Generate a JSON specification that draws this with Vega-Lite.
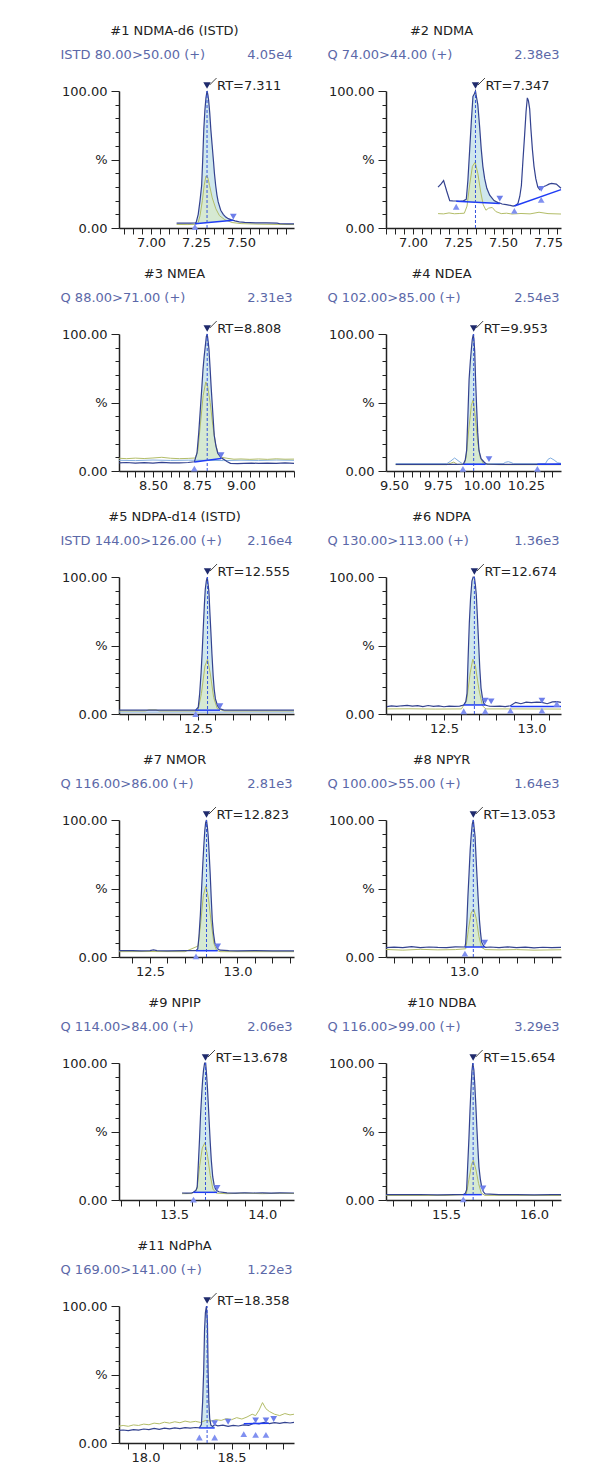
{
"$schema":"https://vega.github.io/schema/vega-lite/v6.json",
"background":"white",
"padding":{"left":60,"top":25,"right":5,"bottom":5},
"columns":2,
"spacing":{"row":19,"column":30},
"config":{
 "view":{"stroke":null},
 "font":"DejaVu Sans",
 "title":{"font":"DejaVu Sans","fontSize":13,"fontWeight":"normal","color":"#222222","anchor":"middle","frame":"group","offset":10,"baseline":"bottom"},
 "axis":{"grid":false,"labelFont":"DejaVu Sans","labelFontSize":13,"labelColor":"#222222","titleFont":"DejaVu Sans","titleFontSize":13,"titleFontWeight":"normal","titleColor":"#5b68a8","domainColor":"#222222","domainWidth":1.5,"tickColor":"#222222","tickWidth":1,"labelOverlap":false,"labelFlush":false},
 "axisX":{"tickSize":6,"labelPadding":2},
 "axisY":{"labelPadding":4}
},
"concat":[
{"width":175,"height":137,"title":{"text":"#1 NDMA-d6 (ISTD)","dx":-32},"data":{"name":"p1"},
 "encoding":{"x":{"field":"t","type":"quantitative","scale":{"domain":[6.822,7.794],"nice":false,"zero":false},"axis":{"values":[6.85,6.9,6.95,7,7.05,7.1,7.15,7.2,7.25,7.3,7.35,7.4,7.45,7.5,7.55,7.6,7.65,7.7,7.75],"labelExpr":"indexof([7,7.25,7.5],datum.value)>=0?format(datum.value,'.2f'):''","title":"4.05e4","titleX":173,"titleY":-174,"titleAlign":"right","titleBaseline":"middle"}},
  "y":{"field":"y","type":"quantitative","scale":{"domain":[0,100],"nice":false},"axis":{"values":[0,10,20,30,40,50,60,70,80,90,100],"labelExpr":"datum.value==100?'100.00':datum.value==50?'%':datum.value==0?'0.00':''","tickSize":{"condition":{"test":"datum.value%50==0","value":8},"value":4},"title":"ISTD 80.00>50.00 (+)","titleX":-59,"titleY":-37,"titleAngle":0,"titleAlign":"left","titleBaseline":"middle"}}},
 "layer":[
  {"transform":[{"filter":"datum.k=='a'"}],"mark":{"type":"area","color":"#cfe7ed","opacity":1},"encoding":{"y2":{"field":"b"}}},
  {"transform":[{"filter":"datum.k=='g'"}],"mark":{"type":"area","color":"#d6e9d2","opacity":1},"encoding":{"y2":{"field":"b"}}},
  {"transform":[{"filter":"datum.k=='c'"}],"mark":{"type":"line","color":"#82aee0","strokeWidth":1}},
  {"transform":[{"filter":"datum.k=='o'"}],"mark":{"type":"line","color":"#b3bd68","strokeWidth":1}},
  {"transform":[{"filter":"datum.k=='m'"}],"mark":{"type":"line","color":"#33428f","strokeWidth":1.2}},
  {"transform":[{"filter":"datum.k=='b'"}],"mark":{"type":"rule","color":"#1f3cf5","strokeWidth":1.5},"encoding":{"x2":{"field":"t2"},"y2":{"field":"y2"}}},
  {"transform":[{"filter":"datum.k=='x'"}],"mark":{"type":"rule","color":"#3553dc","strokeWidth":1,"strokeDash":[3,2]},"encoding":{"y":{"datum":0},"y2":{"datum":100}}},
  {"transform":[{"filter":"datum.k=='u'"}],"mark":{"type":"point","shape":"triangle-up","filled":true,"color":"#8090f0","size":45,"opacity":1}},
  {"transform":[{"filter":"datum.k=='d'"}],"mark":{"type":"point","shape":"triangle-down","filled":true,"color":"#6d7eea","size":45,"opacity":1}},
  {"transform":[{"filter":"datum.k=='x'"}],"mark":{"type":"point","shape":"triangle-down","filled":true,"color":"#1f2a6c","size":55,"opacity":1}},
  {"transform":[{"filter":"datum.k=='x'"}],"mark":{"type":"point","shape":"M-1,1L1,-1","filled":false,"color":"#444444","strokeWidth":1,"size":49,"opacity":1,"xOffset":6,"yOffset":-4}},
  {"transform":[{"filter":"datum.k=='x'"}],"mark":{"type":"text","align":"left","baseline":"middle","dx":10,"font":"DejaVu Sans","fontSize":13,"color":"#222222"},"encoding":{"text":{"field":"label"}}}
 ]},
{"width":175,"height":137,"title":{"text":"#2 NDMA","dx":-32},"data":{"name":"p2"},
 "encoding":{"x":{"field":"t","type":"quantitative","scale":{"domain":[6.85,7.822],"nice":false,"zero":false},"axis":{"values":[6.85,6.9,6.95,7,7.05,7.1,7.15,7.2,7.25,7.3,7.35,7.4,7.45,7.5,7.55,7.6,7.65,7.7,7.75,7.8],"labelExpr":"indexof([7,7.25,7.5,7.75],datum.value)>=0?format(datum.value,'.2f'):''","title":"2.38e3","titleX":173,"titleY":-174,"titleAlign":"right","titleBaseline":"middle"}},
  "y":{"field":"y","type":"quantitative","scale":{"domain":[0,100],"nice":false},"axis":{"values":[0,10,20,30,40,50,60,70,80,90,100],"labelExpr":"datum.value==100?'100.00':datum.value==50?'%':datum.value==0?'0.00':''","tickSize":{"condition":{"test":"datum.value%50==0","value":8},"value":4},"title":"Q 74.00>44.00 (+)","titleX":-59,"titleY":-37,"titleAngle":0,"titleAlign":"left","titleBaseline":"middle"}}},
 "layer":[
  {"transform":[{"filter":"datum.k=='a'"}],"mark":{"type":"area","color":"#cfe7ed","opacity":1},"encoding":{"y2":{"field":"b"}}},
  {"transform":[{"filter":"datum.k=='g'"}],"mark":{"type":"area","color":"#d6e9d2","opacity":1},"encoding":{"y2":{"field":"b"}}},
  {"transform":[{"filter":"datum.k=='c'"}],"mark":{"type":"line","color":"#82aee0","strokeWidth":1}},
  {"transform":[{"filter":"datum.k=='o'"}],"mark":{"type":"line","color":"#b3bd68","strokeWidth":1}},
  {"transform":[{"filter":"datum.k=='m'"}],"mark":{"type":"line","color":"#33428f","strokeWidth":1.2}},
  {"transform":[{"filter":"datum.k=='b'"}],"mark":{"type":"rule","color":"#1f3cf5","strokeWidth":1.5},"encoding":{"x2":{"field":"t2"},"y2":{"field":"y2"}}},
  {"transform":[{"filter":"datum.k=='x'"}],"mark":{"type":"rule","color":"#3553dc","strokeWidth":1,"strokeDash":[3,2]},"encoding":{"y":{"datum":0},"y2":{"datum":100}}},
  {"transform":[{"filter":"datum.k=='u'"}],"mark":{"type":"point","shape":"triangle-up","filled":true,"color":"#8090f0","size":45,"opacity":1}},
  {"transform":[{"filter":"datum.k=='d'"}],"mark":{"type":"point","shape":"triangle-down","filled":true,"color":"#6d7eea","size":45,"opacity":1}},
  {"transform":[{"filter":"datum.k=='x'"}],"mark":{"type":"point","shape":"triangle-down","filled":true,"color":"#1f2a6c","size":55,"opacity":1}},
  {"transform":[{"filter":"datum.k=='x'"}],"mark":{"type":"point","shape":"M-1,1L1,-1","filled":false,"color":"#444444","strokeWidth":1,"size":49,"opacity":1,"xOffset":6,"yOffset":-4}},
  {"transform":[{"filter":"datum.k=='x'"}],"mark":{"type":"text","align":"left","baseline":"middle","dx":10,"font":"DejaVu Sans","fontSize":13,"color":"#222222"},"encoding":{"text":{"field":"label"}}}
 ]},
{"width":175,"height":137,"title":{"text":"#3 NMEA","dx":-32},"data":{"name":"p3"},
 "encoding":{"x":{"field":"t","type":"quantitative","scale":{"domain":[8.307,9.301],"nice":false,"zero":false},"axis":{"values":[8.35,8.4,8.45,8.5,8.55,8.6,8.65,8.7,8.75,8.8,8.85,8.9,8.95,9,9.05,9.1,9.15,9.2,9.25,9.3],"labelExpr":"indexof([8.5,8.75,9],datum.value)>=0?format(datum.value,'.2f'):''","title":"2.31e3","titleX":173,"titleY":-174,"titleAlign":"right","titleBaseline":"middle"}},
  "y":{"field":"y","type":"quantitative","scale":{"domain":[0,100],"nice":false},"axis":{"values":[0,10,20,30,40,50,60,70,80,90,100],"labelExpr":"datum.value==100?'100.00':datum.value==50?'%':datum.value==0?'0.00':''","tickSize":{"condition":{"test":"datum.value%50==0","value":8},"value":4},"title":"Q 88.00>71.00 (+)","titleX":-59,"titleY":-37,"titleAngle":0,"titleAlign":"left","titleBaseline":"middle"}}},
 "layer":[
  {"transform":[{"filter":"datum.k=='a'"}],"mark":{"type":"area","color":"#cfe7ed","opacity":1},"encoding":{"y2":{"field":"b"}}},
  {"transform":[{"filter":"datum.k=='g'"}],"mark":{"type":"area","color":"#d6e9d2","opacity":1},"encoding":{"y2":{"field":"b"}}},
  {"transform":[{"filter":"datum.k=='c'"}],"mark":{"type":"line","color":"#82aee0","strokeWidth":1}},
  {"transform":[{"filter":"datum.k=='o'"}],"mark":{"type":"line","color":"#b3bd68","strokeWidth":1}},
  {"transform":[{"filter":"datum.k=='m'"}],"mark":{"type":"line","color":"#33428f","strokeWidth":1.2}},
  {"transform":[{"filter":"datum.k=='b'"}],"mark":{"type":"rule","color":"#1f3cf5","strokeWidth":1.5},"encoding":{"x2":{"field":"t2"},"y2":{"field":"y2"}}},
  {"transform":[{"filter":"datum.k=='x'"}],"mark":{"type":"rule","color":"#3553dc","strokeWidth":1,"strokeDash":[3,2]},"encoding":{"y":{"datum":0},"y2":{"datum":100}}},
  {"transform":[{"filter":"datum.k=='u'"}],"mark":{"type":"point","shape":"triangle-up","filled":true,"color":"#8090f0","size":45,"opacity":1}},
  {"transform":[{"filter":"datum.k=='d'"}],"mark":{"type":"point","shape":"triangle-down","filled":true,"color":"#6d7eea","size":45,"opacity":1}},
  {"transform":[{"filter":"datum.k=='x'"}],"mark":{"type":"point","shape":"triangle-down","filled":true,"color":"#1f2a6c","size":55,"opacity":1}},
  {"transform":[{"filter":"datum.k=='x'"}],"mark":{"type":"point","shape":"M-1,1L1,-1","filled":false,"color":"#444444","strokeWidth":1,"size":49,"opacity":1,"xOffset":6,"yOffset":-4}},
  {"transform":[{"filter":"datum.k=='x'"}],"mark":{"type":"text","align":"left","baseline":"middle","dx":10,"font":"DejaVu Sans","fontSize":13,"color":"#222222"},"encoding":{"text":{"field":"label"}}}
 ]},
{"width":175,"height":137,"title":{"text":"#4 NDEA","dx":-32},"data":{"name":"p4"},
 "encoding":{"x":{"field":"t","type":"quantitative","scale":{"domain":[9.455,10.449],"nice":false,"zero":false},"axis":{"values":[9.5,9.55,9.6,9.65,9.7,9.75,9.8,9.85,9.9,9.95,10,10.05,10.1,10.15,10.2,10.25,10.3,10.35,10.4],"labelExpr":"indexof([9.5,9.75,10,10.25],datum.value)>=0?format(datum.value,'.2f'):''","title":"2.54e3","titleX":173,"titleY":-174,"titleAlign":"right","titleBaseline":"middle"}},
  "y":{"field":"y","type":"quantitative","scale":{"domain":[0,100],"nice":false},"axis":{"values":[0,10,20,30,40,50,60,70,80,90,100],"labelExpr":"datum.value==100?'100.00':datum.value==50?'%':datum.value==0?'0.00':''","tickSize":{"condition":{"test":"datum.value%50==0","value":8},"value":4},"title":"Q 102.00>85.00 (+)","titleX":-59,"titleY":-37,"titleAngle":0,"titleAlign":"left","titleBaseline":"middle"}}},
 "layer":[
  {"transform":[{"filter":"datum.k=='a'"}],"mark":{"type":"area","color":"#cfe7ed","opacity":1},"encoding":{"y2":{"field":"b"}}},
  {"transform":[{"filter":"datum.k=='g'"}],"mark":{"type":"area","color":"#d6e9d2","opacity":1},"encoding":{"y2":{"field":"b"}}},
  {"transform":[{"filter":"datum.k=='c'"}],"mark":{"type":"line","color":"#82aee0","strokeWidth":1}},
  {"transform":[{"filter":"datum.k=='o'"}],"mark":{"type":"line","color":"#b3bd68","strokeWidth":1}},
  {"transform":[{"filter":"datum.k=='m'"}],"mark":{"type":"line","color":"#33428f","strokeWidth":1.2}},
  {"transform":[{"filter":"datum.k=='b'"}],"mark":{"type":"rule","color":"#1f3cf5","strokeWidth":1.5},"encoding":{"x2":{"field":"t2"},"y2":{"field":"y2"}}},
  {"transform":[{"filter":"datum.k=='x'"}],"mark":{"type":"rule","color":"#3553dc","strokeWidth":1,"strokeDash":[3,2]},"encoding":{"y":{"datum":0},"y2":{"datum":100}}},
  {"transform":[{"filter":"datum.k=='u'"}],"mark":{"type":"point","shape":"triangle-up","filled":true,"color":"#8090f0","size":45,"opacity":1}},
  {"transform":[{"filter":"datum.k=='d'"}],"mark":{"type":"point","shape":"triangle-down","filled":true,"color":"#6d7eea","size":45,"opacity":1}},
  {"transform":[{"filter":"datum.k=='x'"}],"mark":{"type":"point","shape":"triangle-down","filled":true,"color":"#1f2a6c","size":55,"opacity":1}},
  {"transform":[{"filter":"datum.k=='x'"}],"mark":{"type":"point","shape":"M-1,1L1,-1","filled":false,"color":"#444444","strokeWidth":1,"size":49,"opacity":1,"xOffset":6,"yOffset":-4}},
  {"transform":[{"filter":"datum.k=='x'"}],"mark":{"type":"text","align":"left","baseline":"middle","dx":10,"font":"DejaVu Sans","fontSize":13,"color":"#222222"},"encoding":{"text":{"field":"label"}}}
 ]},
{"width":175,"height":137,"title":{"text":"#5 NDPA-d14 (ISTD)","dx":-32},"data":{"name":"p5"},
 "encoding":{"x":{"field":"t","type":"quantitative","scale":{"domain":[12.049,13.049],"nice":false,"zero":false},"axis":{"values":[12.1,12.2,12.3,12.4,12.5,12.6,12.7,12.8,12.9,13],"labelExpr":"indexof([12.5],datum.value)>=0?format(datum.value,'.1f'):''","title":"2.16e4","titleX":173,"titleY":-174,"titleAlign":"right","titleBaseline":"middle"}},
  "y":{"field":"y","type":"quantitative","scale":{"domain":[0,100],"nice":false},"axis":{"values":[0,10,20,30,40,50,60,70,80,90,100],"labelExpr":"datum.value==100?'100.00':datum.value==50?'%':datum.value==0?'0.00':''","tickSize":{"condition":{"test":"datum.value%50==0","value":8},"value":4},"title":"ISTD 144.00>126.00 (+)","titleX":-59,"titleY":-37,"titleAngle":0,"titleAlign":"left","titleBaseline":"middle"}}},
 "layer":[
  {"transform":[{"filter":"datum.k=='a'"}],"mark":{"type":"area","color":"#cfe7ed","opacity":1},"encoding":{"y2":{"field":"b"}}},
  {"transform":[{"filter":"datum.k=='g'"}],"mark":{"type":"area","color":"#d6e9d2","opacity":1},"encoding":{"y2":{"field":"b"}}},
  {"transform":[{"filter":"datum.k=='c'"}],"mark":{"type":"line","color":"#82aee0","strokeWidth":1}},
  {"transform":[{"filter":"datum.k=='o'"}],"mark":{"type":"line","color":"#b3bd68","strokeWidth":1}},
  {"transform":[{"filter":"datum.k=='m'"}],"mark":{"type":"line","color":"#33428f","strokeWidth":1.2}},
  {"transform":[{"filter":"datum.k=='b'"}],"mark":{"type":"rule","color":"#1f3cf5","strokeWidth":1.5},"encoding":{"x2":{"field":"t2"},"y2":{"field":"y2"}}},
  {"transform":[{"filter":"datum.k=='x'"}],"mark":{"type":"rule","color":"#3553dc","strokeWidth":1,"strokeDash":[3,2]},"encoding":{"y":{"datum":0},"y2":{"datum":100}}},
  {"transform":[{"filter":"datum.k=='u'"}],"mark":{"type":"point","shape":"triangle-up","filled":true,"color":"#8090f0","size":45,"opacity":1}},
  {"transform":[{"filter":"datum.k=='d'"}],"mark":{"type":"point","shape":"triangle-down","filled":true,"color":"#6d7eea","size":45,"opacity":1}},
  {"transform":[{"filter":"datum.k=='x'"}],"mark":{"type":"point","shape":"triangle-down","filled":true,"color":"#1f2a6c","size":55,"opacity":1}},
  {"transform":[{"filter":"datum.k=='x'"}],"mark":{"type":"point","shape":"M-1,1L1,-1","filled":false,"color":"#444444","strokeWidth":1,"size":49,"opacity":1,"xOffset":6,"yOffset":-4}},
  {"transform":[{"filter":"datum.k=='x'"}],"mark":{"type":"text","align":"left","baseline":"middle","dx":10,"font":"DejaVu Sans","fontSize":13,"color":"#222222"},"encoding":{"text":{"field":"label"}}}
 ]},
{"width":175,"height":137,"title":{"text":"#6 NDPA","dx":-32},"data":{"name":"p6"},
 "encoding":{"x":{"field":"t","type":"quantitative","scale":{"domain":[12.169,13.169],"nice":false,"zero":false},"axis":{"values":[12.2,12.3,12.4,12.5,12.6,12.7,12.8,12.9,13,13.1],"labelExpr":"indexof([12.5,13],datum.value)>=0?format(datum.value,'.1f'):''","title":"1.36e3","titleX":173,"titleY":-174,"titleAlign":"right","titleBaseline":"middle"}},
  "y":{"field":"y","type":"quantitative","scale":{"domain":[0,100],"nice":false},"axis":{"values":[0,10,20,30,40,50,60,70,80,90,100],"labelExpr":"datum.value==100?'100.00':datum.value==50?'%':datum.value==0?'0.00':''","tickSize":{"condition":{"test":"datum.value%50==0","value":8},"value":4},"title":"Q 130.00>113.00 (+)","titleX":-59,"titleY":-37,"titleAngle":0,"titleAlign":"left","titleBaseline":"middle"}}},
 "layer":[
  {"transform":[{"filter":"datum.k=='a'"}],"mark":{"type":"area","color":"#cfe7ed","opacity":1},"encoding":{"y2":{"field":"b"}}},
  {"transform":[{"filter":"datum.k=='g'"}],"mark":{"type":"area","color":"#d6e9d2","opacity":1},"encoding":{"y2":{"field":"b"}}},
  {"transform":[{"filter":"datum.k=='c'"}],"mark":{"type":"line","color":"#82aee0","strokeWidth":1}},
  {"transform":[{"filter":"datum.k=='o'"}],"mark":{"type":"line","color":"#b3bd68","strokeWidth":1}},
  {"transform":[{"filter":"datum.k=='m'"}],"mark":{"type":"line","color":"#33428f","strokeWidth":1.2}},
  {"transform":[{"filter":"datum.k=='b'"}],"mark":{"type":"rule","color":"#1f3cf5","strokeWidth":1.5},"encoding":{"x2":{"field":"t2"},"y2":{"field":"y2"}}},
  {"transform":[{"filter":"datum.k=='x'"}],"mark":{"type":"rule","color":"#3553dc","strokeWidth":1,"strokeDash":[3,2]},"encoding":{"y":{"datum":0},"y2":{"datum":100}}},
  {"transform":[{"filter":"datum.k=='u'"}],"mark":{"type":"point","shape":"triangle-up","filled":true,"color":"#8090f0","size":45,"opacity":1}},
  {"transform":[{"filter":"datum.k=='d'"}],"mark":{"type":"point","shape":"triangle-down","filled":true,"color":"#6d7eea","size":45,"opacity":1}},
  {"transform":[{"filter":"datum.k=='x'"}],"mark":{"type":"point","shape":"triangle-down","filled":true,"color":"#1f2a6c","size":55,"opacity":1}},
  {"transform":[{"filter":"datum.k=='x'"}],"mark":{"type":"point","shape":"M-1,1L1,-1","filled":false,"color":"#444444","strokeWidth":1,"size":49,"opacity":1,"xOffset":6,"yOffset":-4}},
  {"transform":[{"filter":"datum.k=='x'"}],"mark":{"type":"text","align":"left","baseline":"middle","dx":10,"font":"DejaVu Sans","fontSize":13,"color":"#222222"},"encoding":{"text":{"field":"label"}}}
 ]},
{"width":175,"height":137,"title":{"text":"#7 NMOR","dx":-32},"data":{"name":"p7"},
 "encoding":{"x":{"field":"t","type":"quantitative","scale":{"domain":[12.323,13.323],"nice":false,"zero":false},"axis":{"values":[12.4,12.5,12.6,12.7,12.8,12.9,13,13.1,13.2,13.3],"labelExpr":"indexof([12.5,13],datum.value)>=0?format(datum.value,'.1f'):''","title":"2.81e3","titleX":173,"titleY":-174,"titleAlign":"right","titleBaseline":"middle"}},
  "y":{"field":"y","type":"quantitative","scale":{"domain":[0,100],"nice":false},"axis":{"values":[0,10,20,30,40,50,60,70,80,90,100],"labelExpr":"datum.value==100?'100.00':datum.value==50?'%':datum.value==0?'0.00':''","tickSize":{"condition":{"test":"datum.value%50==0","value":8},"value":4},"title":"Q 116.00>86.00 (+)","titleX":-59,"titleY":-37,"titleAngle":0,"titleAlign":"left","titleBaseline":"middle"}}},
 "layer":[
  {"transform":[{"filter":"datum.k=='a'"}],"mark":{"type":"area","color":"#cfe7ed","opacity":1},"encoding":{"y2":{"field":"b"}}},
  {"transform":[{"filter":"datum.k=='g'"}],"mark":{"type":"area","color":"#d6e9d2","opacity":1},"encoding":{"y2":{"field":"b"}}},
  {"transform":[{"filter":"datum.k=='c'"}],"mark":{"type":"line","color":"#82aee0","strokeWidth":1}},
  {"transform":[{"filter":"datum.k=='o'"}],"mark":{"type":"line","color":"#b3bd68","strokeWidth":1}},
  {"transform":[{"filter":"datum.k=='m'"}],"mark":{"type":"line","color":"#33428f","strokeWidth":1.2}},
  {"transform":[{"filter":"datum.k=='b'"}],"mark":{"type":"rule","color":"#1f3cf5","strokeWidth":1.5},"encoding":{"x2":{"field":"t2"},"y2":{"field":"y2"}}},
  {"transform":[{"filter":"datum.k=='x'"}],"mark":{"type":"rule","color":"#3553dc","strokeWidth":1,"strokeDash":[3,2]},"encoding":{"y":{"datum":0},"y2":{"datum":100}}},
  {"transform":[{"filter":"datum.k=='u'"}],"mark":{"type":"point","shape":"triangle-up","filled":true,"color":"#8090f0","size":45,"opacity":1}},
  {"transform":[{"filter":"datum.k=='d'"}],"mark":{"type":"point","shape":"triangle-down","filled":true,"color":"#6d7eea","size":45,"opacity":1}},
  {"transform":[{"filter":"datum.k=='x'"}],"mark":{"type":"point","shape":"triangle-down","filled":true,"color":"#1f2a6c","size":55,"opacity":1}},
  {"transform":[{"filter":"datum.k=='x'"}],"mark":{"type":"point","shape":"M-1,1L1,-1","filled":false,"color":"#444444","strokeWidth":1,"size":49,"opacity":1,"xOffset":6,"yOffset":-4}},
  {"transform":[{"filter":"datum.k=='x'"}],"mark":{"type":"text","align":"left","baseline":"middle","dx":10,"font":"DejaVu Sans","fontSize":13,"color":"#222222"},"encoding":{"text":{"field":"label"}}}
 ]},
{"width":175,"height":137,"title":{"text":"#8 NPYR","dx":-32},"data":{"name":"p8"},
 "encoding":{"x":{"field":"t","type":"quantitative","scale":{"domain":[12.554,13.554],"nice":false,"zero":false},"axis":{"values":[12.6,12.7,12.8,12.9,13,13.1,13.2,13.3,13.4,13.5],"labelExpr":"indexof([13],datum.value)>=0?format(datum.value,'.1f'):''","title":"1.64e3","titleX":173,"titleY":-174,"titleAlign":"right","titleBaseline":"middle"}},
  "y":{"field":"y","type":"quantitative","scale":{"domain":[0,100],"nice":false},"axis":{"values":[0,10,20,30,40,50,60,70,80,90,100],"labelExpr":"datum.value==100?'100.00':datum.value==50?'%':datum.value==0?'0.00':''","tickSize":{"condition":{"test":"datum.value%50==0","value":8},"value":4},"title":"Q 100.00>55.00 (+)","titleX":-59,"titleY":-37,"titleAngle":0,"titleAlign":"left","titleBaseline":"middle"}}},
 "layer":[
  {"transform":[{"filter":"datum.k=='a'"}],"mark":{"type":"area","color":"#cfe7ed","opacity":1},"encoding":{"y2":{"field":"b"}}},
  {"transform":[{"filter":"datum.k=='g'"}],"mark":{"type":"area","color":"#d6e9d2","opacity":1},"encoding":{"y2":{"field":"b"}}},
  {"transform":[{"filter":"datum.k=='c'"}],"mark":{"type":"line","color":"#82aee0","strokeWidth":1}},
  {"transform":[{"filter":"datum.k=='o'"}],"mark":{"type":"line","color":"#b3bd68","strokeWidth":1}},
  {"transform":[{"filter":"datum.k=='m'"}],"mark":{"type":"line","color":"#33428f","strokeWidth":1.2}},
  {"transform":[{"filter":"datum.k=='b'"}],"mark":{"type":"rule","color":"#1f3cf5","strokeWidth":1.5},"encoding":{"x2":{"field":"t2"},"y2":{"field":"y2"}}},
  {"transform":[{"filter":"datum.k=='x'"}],"mark":{"type":"rule","color":"#3553dc","strokeWidth":1,"strokeDash":[3,2]},"encoding":{"y":{"datum":0},"y2":{"datum":100}}},
  {"transform":[{"filter":"datum.k=='u'"}],"mark":{"type":"point","shape":"triangle-up","filled":true,"color":"#8090f0","size":45,"opacity":1}},
  {"transform":[{"filter":"datum.k=='d'"}],"mark":{"type":"point","shape":"triangle-down","filled":true,"color":"#6d7eea","size":45,"opacity":1}},
  {"transform":[{"filter":"datum.k=='x'"}],"mark":{"type":"point","shape":"triangle-down","filled":true,"color":"#1f2a6c","size":55,"opacity":1}},
  {"transform":[{"filter":"datum.k=='x'"}],"mark":{"type":"point","shape":"M-1,1L1,-1","filled":false,"color":"#444444","strokeWidth":1,"size":49,"opacity":1,"xOffset":6,"yOffset":-4}},
  {"transform":[{"filter":"datum.k=='x'"}],"mark":{"type":"text","align":"left","baseline":"middle","dx":10,"font":"DejaVu Sans","fontSize":13,"color":"#222222"},"encoding":{"text":{"field":"label"}}}
 ]},
{"width":175,"height":137,"title":{"text":"#9 NPIP","dx":-32},"data":{"name":"p9"},
 "encoding":{"x":{"field":"t","type":"quantitative","scale":{"domain":[13.1875,14.18],"nice":false,"zero":false},"axis":{"values":[13.2,13.3,13.4,13.5,13.6,13.7,13.8,13.9,14,14.1],"labelExpr":"indexof([13.5,14],datum.value)>=0?format(datum.value,'.1f'):''","title":"2.06e3","titleX":173,"titleY":-174,"titleAlign":"right","titleBaseline":"middle"}},
  "y":{"field":"y","type":"quantitative","scale":{"domain":[0,100],"nice":false},"axis":{"values":[0,10,20,30,40,50,60,70,80,90,100],"labelExpr":"datum.value==100?'100.00':datum.value==50?'%':datum.value==0?'0.00':''","tickSize":{"condition":{"test":"datum.value%50==0","value":8},"value":4},"title":"Q 114.00>84.00 (+)","titleX":-59,"titleY":-37,"titleAngle":0,"titleAlign":"left","titleBaseline":"middle"}}},
 "layer":[
  {"transform":[{"filter":"datum.k=='a'"}],"mark":{"type":"area","color":"#cfe7ed","opacity":1},"encoding":{"y2":{"field":"b"}}},
  {"transform":[{"filter":"datum.k=='g'"}],"mark":{"type":"area","color":"#d6e9d2","opacity":1},"encoding":{"y2":{"field":"b"}}},
  {"transform":[{"filter":"datum.k=='c'"}],"mark":{"type":"line","color":"#82aee0","strokeWidth":1}},
  {"transform":[{"filter":"datum.k=='o'"}],"mark":{"type":"line","color":"#b3bd68","strokeWidth":1}},
  {"transform":[{"filter":"datum.k=='m'"}],"mark":{"type":"line","color":"#33428f","strokeWidth":1.2}},
  {"transform":[{"filter":"datum.k=='b'"}],"mark":{"type":"rule","color":"#1f3cf5","strokeWidth":1.5},"encoding":{"x2":{"field":"t2"},"y2":{"field":"y2"}}},
  {"transform":[{"filter":"datum.k=='x'"}],"mark":{"type":"rule","color":"#3553dc","strokeWidth":1,"strokeDash":[3,2]},"encoding":{"y":{"datum":0},"y2":{"datum":100}}},
  {"transform":[{"filter":"datum.k=='u'"}],"mark":{"type":"point","shape":"triangle-up","filled":true,"color":"#8090f0","size":45,"opacity":1}},
  {"transform":[{"filter":"datum.k=='d'"}],"mark":{"type":"point","shape":"triangle-down","filled":true,"color":"#6d7eea","size":45,"opacity":1}},
  {"transform":[{"filter":"datum.k=='x'"}],"mark":{"type":"point","shape":"triangle-down","filled":true,"color":"#1f2a6c","size":55,"opacity":1}},
  {"transform":[{"filter":"datum.k=='x'"}],"mark":{"type":"point","shape":"M-1,1L1,-1","filled":false,"color":"#444444","strokeWidth":1,"size":49,"opacity":1,"xOffset":6,"yOffset":-4}},
  {"transform":[{"filter":"datum.k=='x'"}],"mark":{"type":"text","align":"left","baseline":"middle","dx":10,"font":"DejaVu Sans","fontSize":13,"color":"#222222"},"encoding":{"text":{"field":"label"}}}
 ]},
{"width":175,"height":137,"title":{"text":"#10 NDBA","dx":-32},"data":{"name":"p10"},
 "encoding":{"x":{"field":"t","type":"quantitative","scale":{"domain":[15.159,16.153],"nice":false,"zero":false},"axis":{"values":[15.2,15.3,15.4,15.5,15.6,15.7,15.8,15.9,16,16.1],"labelExpr":"indexof([15.5,16],datum.value)>=0?format(datum.value,'.1f'):''","title":"3.29e3","titleX":173,"titleY":-174,"titleAlign":"right","titleBaseline":"middle"}},
  "y":{"field":"y","type":"quantitative","scale":{"domain":[0,100],"nice":false},"axis":{"values":[0,10,20,30,40,50,60,70,80,90,100],"labelExpr":"datum.value==100?'100.00':datum.value==50?'%':datum.value==0?'0.00':''","tickSize":{"condition":{"test":"datum.value%50==0","value":8},"value":4},"title":"Q 116.00>99.00 (+)","titleX":-59,"titleY":-37,"titleAngle":0,"titleAlign":"left","titleBaseline":"middle"}}},
 "layer":[
  {"transform":[{"filter":"datum.k=='a'"}],"mark":{"type":"area","color":"#cfe7ed","opacity":1},"encoding":{"y2":{"field":"b"}}},
  {"transform":[{"filter":"datum.k=='g'"}],"mark":{"type":"area","color":"#d6e9d2","opacity":1},"encoding":{"y2":{"field":"b"}}},
  {"transform":[{"filter":"datum.k=='c'"}],"mark":{"type":"line","color":"#82aee0","strokeWidth":1}},
  {"transform":[{"filter":"datum.k=='o'"}],"mark":{"type":"line","color":"#b3bd68","strokeWidth":1}},
  {"transform":[{"filter":"datum.k=='m'"}],"mark":{"type":"line","color":"#33428f","strokeWidth":1.2}},
  {"transform":[{"filter":"datum.k=='b'"}],"mark":{"type":"rule","color":"#1f3cf5","strokeWidth":1.5},"encoding":{"x2":{"field":"t2"},"y2":{"field":"y2"}}},
  {"transform":[{"filter":"datum.k=='x'"}],"mark":{"type":"rule","color":"#3553dc","strokeWidth":1,"strokeDash":[3,2]},"encoding":{"y":{"datum":0},"y2":{"datum":100}}},
  {"transform":[{"filter":"datum.k=='u'"}],"mark":{"type":"point","shape":"triangle-up","filled":true,"color":"#8090f0","size":45,"opacity":1}},
  {"transform":[{"filter":"datum.k=='d'"}],"mark":{"type":"point","shape":"triangle-down","filled":true,"color":"#6d7eea","size":45,"opacity":1}},
  {"transform":[{"filter":"datum.k=='x'"}],"mark":{"type":"point","shape":"triangle-down","filled":true,"color":"#1f2a6c","size":55,"opacity":1}},
  {"transform":[{"filter":"datum.k=='x'"}],"mark":{"type":"point","shape":"M-1,1L1,-1","filled":false,"color":"#444444","strokeWidth":1,"size":49,"opacity":1,"xOffset":6,"yOffset":-4}},
  {"transform":[{"filter":"datum.k=='x'"}],"mark":{"type":"text","align":"left","baseline":"middle","dx":10,"font":"DejaVu Sans","fontSize":13,"color":"#222222"},"encoding":{"text":{"field":"label"}}}
 ]},
{"width":175,"height":137,"title":{"text":"#11 NdPhA","dx":-32},"data":{"name":"p11"},
 "encoding":{"x":{"field":"t","type":"quantitative","scale":{"domain":[17.846,18.863],"nice":false,"zero":false},"axis":{"values":[17.9,18,18.1,18.2,18.3,18.4,18.5,18.6,18.7,18.8],"labelExpr":"indexof([18,18.5],datum.value)>=0?format(datum.value,'.1f'):''","title":"1.22e3","titleX":173,"titleY":-174,"titleAlign":"right","titleBaseline":"middle"}},
  "y":{"field":"y","type":"quantitative","scale":{"domain":[0,100],"nice":false},"axis":{"values":[0,10,20,30,40,50,60,70,80,90,100],"labelExpr":"datum.value==100?'100.00':datum.value==50?'%':datum.value==0?'0.00':''","tickSize":{"condition":{"test":"datum.value%50==0","value":8},"value":4},"title":"Q 169.00>141.00 (+)","titleX":-59,"titleY":-37,"titleAngle":0,"titleAlign":"left","titleBaseline":"middle"}}},
 "layer":[
  {"transform":[{"filter":"datum.k=='a'"}],"mark":{"type":"area","color":"#cfe7ed","opacity":1},"encoding":{"y2":{"field":"b"}}},
  {"transform":[{"filter":"datum.k=='g'"}],"mark":{"type":"area","color":"#d6e9d2","opacity":1},"encoding":{"y2":{"field":"b"}}},
  {"transform":[{"filter":"datum.k=='c'"}],"mark":{"type":"line","color":"#82aee0","strokeWidth":1}},
  {"transform":[{"filter":"datum.k=='o'"}],"mark":{"type":"line","color":"#b3bd68","strokeWidth":1}},
  {"transform":[{"filter":"datum.k=='m'"}],"mark":{"type":"line","color":"#33428f","strokeWidth":1.2}},
  {"transform":[{"filter":"datum.k=='b'"}],"mark":{"type":"rule","color":"#1f3cf5","strokeWidth":1.5},"encoding":{"x2":{"field":"t2"},"y2":{"field":"y2"}}},
  {"transform":[{"filter":"datum.k=='x'"}],"mark":{"type":"rule","color":"#3553dc","strokeWidth":1,"strokeDash":[3,2]},"encoding":{"y":{"datum":0},"y2":{"datum":100}}},
  {"transform":[{"filter":"datum.k=='u'"}],"mark":{"type":"point","shape":"triangle-up","filled":true,"color":"#8090f0","size":45,"opacity":1}},
  {"transform":[{"filter":"datum.k=='d'"}],"mark":{"type":"point","shape":"triangle-down","filled":true,"color":"#6d7eea","size":45,"opacity":1}},
  {"transform":[{"filter":"datum.k=='x'"}],"mark":{"type":"point","shape":"triangle-down","filled":true,"color":"#1f2a6c","size":55,"opacity":1}},
  {"transform":[{"filter":"datum.k=='x'"}],"mark":{"type":"point","shape":"M-1,1L1,-1","filled":false,"color":"#444444","strokeWidth":1,"size":49,"opacity":1,"xOffset":6,"yOffset":-4}},
  {"transform":[{"filter":"datum.k=='x'"}],"mark":{"type":"text","align":"left","baseline":"middle","dx":10,"font":"DejaVu Sans","fontSize":13,"color":"#222222"},"encoding":{"text":{"field":"label"}}}
 ]}
],
"datasets":{
"p1":[
{"k":"m","t":7.142,"y":3.6},{"k":"m","t":7.18,"y":3.5},{"k":"m","t":7.22,"y":3.6},{"k":"m","t":7.244,"y":3.7},{"k":"m","t":7.25,"y":3.8},{"k":"m","t":7.262,"y":10},{"k":"m","t":7.272,"y":20},{"k":"m","t":7.281,"y":31},{"k":"m","t":7.287,"y":50},{"k":"m","t":7.293,"y":72},{"k":"m","t":7.299,"y":86},{"k":"m","t":7.305,"y":95},{"k":"m","t":7.311,"y":100},{"k":"m","t":7.316,"y":97},{"k":"m","t":7.32,"y":93},{"k":"m","t":7.326,"y":84},{"k":"m","t":7.332,"y":72},{"k":"m","t":7.339,"y":61},{"k":"m","t":7.346,"y":50},{"k":"m","t":7.352,"y":40},{"k":"m","t":7.359,"y":31},{"k":"m","t":7.366,"y":24},{"k":"m","t":7.373,"y":19},{"k":"m","t":7.387,"y":13},{"k":"m","t":7.401,"y":10},{"k":"m","t":7.415,"y":8},{"k":"m","t":7.429,"y":6.8},{"k":"m","t":7.447,"y":5.9},{"k":"m","t":7.457,"y":5.6},{"k":"m","t":7.466,"y":5.2},{"k":"m","t":7.49,"y":4.5},{"k":"m","t":7.52,"y":4.1},{"k":"m","t":7.58,"y":3.8},{"k":"m","t":7.64,"y":3.7},{"k":"m","t":7.7,"y":3.6},{"k":"m","t":7.716,"y":3.1},{"k":"m","t":7.76,"y":3},{"k":"m","t":7.794,"y":3},
{"k":"a","t":7.244,"y":3.7,"b":3.1},{"k":"a","t":7.25,"y":3.8,"b":3.2},{"k":"a","t":7.262,"y":10,"b":3.3},{"k":"a","t":7.272,"y":20,"b":3.4},{"k":"a","t":7.281,"y":31,"b":3.5},{"k":"a","t":7.287,"y":50,"b":3.6},{"k":"a","t":7.293,"y":72,"b":3.7},{"k":"a","t":7.299,"y":86,"b":3.7},{"k":"a","t":7.305,"y":95,"b":3.8},{"k":"a","t":7.311,"y":100,"b":3.9},{"k":"a","t":7.316,"y":97,"b":3.9},{"k":"a","t":7.32,"y":93,"b":4},{"k":"a","t":7.326,"y":84,"b":4},{"k":"a","t":7.332,"y":72,"b":4.1},{"k":"a","t":7.339,"y":61,"b":4.2},{"k":"a","t":7.346,"y":50,"b":4.3},{"k":"a","t":7.352,"y":40,"b":4.4},{"k":"a","t":7.359,"y":31,"b":4.4},{"k":"a","t":7.366,"y":24,"b":4.5},{"k":"a","t":7.373,"y":19,"b":4.6},{"k":"a","t":7.387,"y":13,"b":4.8},{"k":"a","t":7.401,"y":10,"b":4.9},{"k":"a","t":7.415,"y":8,"b":5.1},{"k":"a","t":7.429,"y":6.8,"b":5.3},{"k":"a","t":7.447,"y":5.9,"b":5.5},{"k":"a","t":7.457,"y":5.6,"b":5.6},
{"k":"o","t":7.142,"y":2.6},{"k":"o","t":7.2,"y":2.5},{"k":"o","t":7.25,"y":2.7},{"k":"o","t":7.262,"y":4},{"k":"o","t":7.272,"y":9},{"k":"o","t":7.285,"y":20},{"k":"o","t":7.295,"y":31},{"k":"o","t":7.305,"y":38},{"k":"o","t":7.315,"y":37},{"k":"o","t":7.325,"y":31},{"k":"o","t":7.34,"y":22},{"k":"o","t":7.36,"y":14},{"k":"o","t":7.38,"y":9},{"k":"o","t":7.41,"y":6},{"k":"o","t":7.45,"y":4},{"k":"o","t":7.5,"y":3.2},{"k":"o","t":7.6,"y":2.8},{"k":"o","t":7.7,"y":2.6},{"k":"o","t":7.794,"y":2.5},
{"k":"g","t":7.265,"y":3.3,"b":3.3},{"k":"g","t":7.272,"y":9,"b":3.4},{"k":"g","t":7.285,"y":20,"b":3.6},{"k":"g","t":7.295,"y":31,"b":3.7},{"k":"g","t":7.305,"y":38,"b":3.8},{"k":"g","t":7.315,"y":37,"b":3.9},{"k":"g","t":7.325,"y":31,"b":4},{"k":"g","t":7.34,"y":22,"b":4.2},{"k":"g","t":7.36,"y":14,"b":4.4},{"k":"g","t":7.38,"y":9,"b":4.7},{"k":"g","t":7.41,"y":6,"b":5},{"k":"g","t":7.43,"y":5.3,"b":5.3},
{"k":"b","t":7.244,"y":3.1,"t2":7.457,"y2":5.6},
{"k":"u","t":7.244,"y":0.8},{"k":"d","t":7.457,"y":8.3},
{"k":"x","t":7.311,"y":104,"label":"RT=7.311"}
],
"p2":[
{"k":"m","t":7.139,"y":29.8},{"k":"m","t":7.155,"y":32},{"k":"m","t":7.17,"y":34.6},{"k":"m","t":7.187,"y":27},{"k":"m","t":7.204,"y":20},{"k":"m","t":7.22,"y":19.8},{"k":"m","t":7.24,"y":19.7},{"k":"m","t":7.26,"y":19.5},{"k":"m","t":7.28,"y":19.8},{"k":"m","t":7.296,"y":21},{"k":"m","t":7.305,"y":35},{"k":"m","t":7.315,"y":57.6},{"k":"m","t":7.325,"y":80},{"k":"m","t":7.333,"y":96},{"k":"m","t":7.341,"y":98},{"k":"m","t":7.347,"y":100},{"k":"m","t":7.352,"y":96},{"k":"m","t":7.36,"y":90},{"k":"m","t":7.37,"y":74},{"k":"m","t":7.379,"y":57.6},{"k":"m","t":7.388,"y":45},{"k":"m","t":7.398,"y":36},{"k":"m","t":7.41,"y":29},{"k":"m","t":7.426,"y":24},{"k":"m","t":7.45,"y":20},{"k":"m","t":7.472,"y":18.5},{"k":"m","t":7.482,"y":18.2},{"k":"m","t":7.495,"y":17.5},{"k":"m","t":7.518,"y":17},{"k":"m","t":7.54,"y":16.5},{"k":"m","t":7.556,"y":16},{"k":"m","t":7.57,"y":16.5},{"k":"m","t":7.583,"y":18},{"k":"m","t":7.593,"y":23},{"k":"m","t":7.602,"y":31},{"k":"m","t":7.61,"y":48},{"k":"m","t":7.62,"y":68},{"k":"m","t":7.628,"y":85},{"k":"m","t":7.635,"y":95},{"k":"m","t":7.641,"y":93},{"k":"m","t":7.648,"y":87},{"k":"m","t":7.655,"y":72},{"k":"m","t":7.663,"y":57.6},{"k":"m","t":7.672,"y":45},{"k":"m","t":7.682,"y":36},{"k":"m","t":7.693,"y":30},{"k":"m","t":7.704,"y":28},{"k":"m","t":7.72,"y":30},{"k":"m","t":7.741,"y":31},{"k":"m","t":7.755,"y":32},{"k":"m","t":7.769,"y":32.5},{"k":"m","t":7.796,"y":32},{"k":"m","t":7.822,"y":29},
{"k":"a","t":7.24,"y":19.7,"b":19.6},{"k":"a","t":7.26,"y":19.5,"b":19.5},{"k":"a","t":7.28,"y":19.8,"b":19.3},{"k":"a","t":7.296,"y":21,"b":19.2},{"k":"a","t":7.305,"y":35,"b":19.1},{"k":"a","t":7.315,"y":57.6,"b":19},{"k":"a","t":7.325,"y":80,"b":19},{"k":"a","t":7.333,"y":96,"b":18.9},{"k":"a","t":7.341,"y":98,"b":18.9},{"k":"a","t":7.347,"y":100,"b":18.8},{"k":"a","t":7.352,"y":96,"b":18.8},{"k":"a","t":7.36,"y":90,"b":18.7},{"k":"a","t":7.37,"y":74,"b":18.7},{"k":"a","t":7.379,"y":57.6,"b":18.6},{"k":"a","t":7.388,"y":45,"b":18.5},{"k":"a","t":7.398,"y":36,"b":18.5},{"k":"a","t":7.41,"y":29,"b":18.4},{"k":"a","t":7.426,"y":24,"b":18.3},{"k":"a","t":7.45,"y":20,"b":18.1},{"k":"a","t":7.472,"y":18.5,"b":17.9},{"k":"a","t":7.482,"y":18.2,"b":17.8},
{"k":"o","t":7.139,"y":10.5},{"k":"o","t":7.17,"y":10.3},{"k":"o","t":7.2,"y":11},{"k":"o","t":7.23,"y":10.4},{"k":"o","t":7.26,"y":10.6},{"k":"o","t":7.285,"y":10.8},{"k":"o","t":7.3,"y":16},{"k":"o","t":7.315,"y":32},{"k":"o","t":7.33,"y":45},{"k":"o","t":7.345,"y":48},{"k":"o","t":7.36,"y":40},{"k":"o","t":7.375,"y":27},{"k":"o","t":7.39,"y":17},{"k":"o","t":7.405,"y":13},{"k":"o","t":7.42,"y":14.5},{"k":"o","t":7.44,"y":15},{"k":"o","t":7.46,"y":12},{"k":"o","t":7.49,"y":10.5},{"k":"o","t":7.52,"y":10.8},{"k":"o","t":7.55,"y":10.2},{"k":"o","t":7.6,"y":10.6},{"k":"o","t":7.65,"y":10.3},{"k":"o","t":7.7,"y":11.5},{"k":"o","t":7.75,"y":10.5},{"k":"o","t":7.822,"y":10.2},
{"k":"g","t":7.303,"y":19.1,"b":19.1},{"k":"g","t":7.315,"y":32,"b":19},{"k":"g","t":7.33,"y":45,"b":19},{"k":"g","t":7.345,"y":48,"b":18.8},{"k":"g","t":7.36,"y":40,"b":18.7},{"k":"g","t":7.375,"y":27,"b":18.7},{"k":"g","t":7.388,"y":18.6,"b":18.6},
{"k":"b","t":7.24,"y":19.6,"t2":7.482,"y2":17.8},{"k":"b","t":7.563,"y":16,"t2":7.822,"y2":28},
{"k":"u","t":7.24,"y":15.5},{"k":"u","t":7.563,"y":12.5},{"k":"u","t":7.712,"y":20.5},
{"k":"d","t":7.482,"y":21.5},{"k":"d","t":7.712,"y":28.5},
{"k":"x","t":7.347,"y":104,"label":"RT=7.347"}
],
"p3":[
{"k":"m","t":8.307,"y":5.9},{"k":"m","t":8.35,"y":6.2},{"k":"m","t":8.4,"y":5.7},{"k":"m","t":8.45,"y":6.1},{"k":"m","t":8.5,"y":5.8},{"k":"m","t":8.55,"y":6.3},{"k":"m","t":8.6,"y":5.9},{"k":"m","t":8.65,"y":6},{"k":"m","t":8.7,"y":6.2},{"k":"m","t":8.735,"y":6.7},{"k":"m","t":8.75,"y":13},{"k":"m","t":8.76,"y":28},{"k":"m","t":8.769,"y":45},{"k":"m","t":8.777,"y":60},{"k":"m","t":8.784,"y":74},{"k":"m","t":8.791,"y":84},{"k":"m","t":8.797,"y":91},{"k":"m","t":8.803,"y":98},{"k":"m","t":8.808,"y":100},{"k":"m","t":8.813,"y":95},{"k":"m","t":8.818,"y":89},{"k":"m","t":8.824,"y":76},{"k":"m","t":8.831,"y":60},{"k":"m","t":8.839,"y":44},{"k":"m","t":8.848,"y":26},{"k":"m","t":8.858,"y":18},{"k":"m","t":8.868,"y":13},{"k":"m","t":8.887,"y":9.6},{"k":"m","t":8.902,"y":8.5},{"k":"m","t":8.92,"y":7},{"k":"m","t":8.94,"y":5.6},{"k":"m","t":8.98,"y":5.4},{"k":"m","t":9.016,"y":5.6},{"k":"m","t":9.06,"y":5.8},{"k":"m","t":9.1,"y":5.5},{"k":"m","t":9.15,"y":5.7},{"k":"m","t":9.2,"y":5.6},{"k":"m","t":9.25,"y":5.9},{"k":"m","t":9.301,"y":5.6},
{"k":"c","t":8.307,"y":7.8},{"k":"c","t":8.4,"y":7.6},{"k":"c","t":8.5,"y":8},{"k":"c","t":8.6,"y":7.7},{"k":"c","t":8.7,"y":7.9},{"k":"c","t":8.8,"y":7.8},{"k":"c","t":8.9,"y":7.6},{"k":"c","t":9,"y":7.9},{"k":"c","t":9.1,"y":7.7},{"k":"c","t":9.2,"y":8},{"k":"c","t":9.301,"y":7.8},
{"k":"o","t":8.307,"y":9.3},{"k":"o","t":8.35,"y":9},{"k":"o","t":8.4,"y":9.4},{"k":"o","t":8.45,"y":9.1},{"k":"o","t":8.5,"y":9.5},{"k":"o","t":8.55,"y":10},{"k":"o","t":8.6,"y":9.3},{"k":"o","t":8.65,"y":9},{"k":"o","t":8.7,"y":9.2},{"k":"o","t":8.74,"y":9.5},{"k":"o","t":8.755,"y":15},{"k":"o","t":8.77,"y":35},{"k":"o","t":8.785,"y":55},{"k":"o","t":8.8,"y":65},{"k":"o","t":8.81,"y":62},{"k":"o","t":8.825,"y":50},{"k":"o","t":8.84,"y":33},{"k":"o","t":8.855,"y":20},{"k":"o","t":8.87,"y":13},{"k":"o","t":8.89,"y":10},{"k":"o","t":8.92,"y":9.3},{"k":"o","t":8.96,"y":8.6},{"k":"o","t":9,"y":8.8},{"k":"o","t":9.05,"y":8.5},{"k":"o","t":9.1,"y":8.8},{"k":"o","t":9.15,"y":8.5},{"k":"o","t":9.2,"y":8.9},{"k":"o","t":9.25,"y":8.6},{"k":"o","t":9.301,"y":8.7},
{"k":"a","t":8.735,"y":6.7,"b":6.6},{"k":"a","t":8.75,"y":13,"b":6.9},{"k":"a","t":8.76,"y":28,"b":7},{"k":"a","t":8.769,"y":45,"b":7.2},{"k":"a","t":8.777,"y":60,"b":7.3},{"k":"a","t":8.784,"y":74,"b":7.4},{"k":"a","t":8.791,"y":84,"b":7.6},{"k":"a","t":8.797,"y":91,"b":7.7},{"k":"a","t":8.803,"y":98,"b":7.8},{"k":"a","t":8.808,"y":100,"b":7.9},{"k":"a","t":8.813,"y":95,"b":8},{"k":"a","t":8.818,"y":89,"b":8.1},{"k":"a","t":8.824,"y":76,"b":8.2},{"k":"a","t":8.831,"y":60,"b":8.3},{"k":"a","t":8.839,"y":44,"b":8.4},{"k":"a","t":8.848,"y":26,"b":8.6},{"k":"a","t":8.858,"y":18,"b":8.8},{"k":"a","t":8.868,"y":13,"b":8.9},{"k":"a","t":8.887,"y":9.6,"b":9.2},
{"k":"g","t":8.745,"y":6.8,"b":6.8},{"k":"g","t":8.755,"y":15,"b":6.9},{"k":"g","t":8.77,"y":35,"b":7.2},{"k":"g","t":8.785,"y":55,"b":7.5},{"k":"g","t":8.8,"y":65,"b":7.7},{"k":"g","t":8.81,"y":62,"b":7.9},{"k":"g","t":8.825,"y":50,"b":8.2},{"k":"g","t":8.84,"y":33,"b":8.4},{"k":"g","t":8.855,"y":20,"b":8.7},{"k":"g","t":8.87,"y":13,"b":9},{"k":"g","t":8.887,"y":9.2,"b":9.2},
{"k":"b","t":8.735,"y":6.6,"t2":8.887,"y2":9.2},
{"k":"u","t":8.735,"y":1.8},{"k":"d","t":8.887,"y":11.5},
{"k":"x","t":8.808,"y":104,"label":"RT=8.808"}
],
"p4":[
{"k":"m","t":9.51,"y":4.9},{"k":"m","t":9.55,"y":4.9},{"k":"m","t":9.65,"y":4.8},{"k":"m","t":9.75,"y":4.9},{"k":"m","t":9.85,"y":4.9},{"k":"m","t":9.894,"y":5},{"k":"m","t":9.905,"y":8},{"k":"m","t":9.913,"y":15},{"k":"m","t":9.92,"y":40},{"k":"m","t":9.927,"y":67},{"k":"m","t":9.934,"y":80},{"k":"m","t":9.94,"y":89},{"k":"m","t":9.945,"y":96},{"k":"m","t":9.951,"y":100},{"k":"m","t":9.955,"y":95},{"k":"m","t":9.959,"y":87},{"k":"m","t":9.964,"y":66},{"k":"m","t":9.97,"y":46},{"k":"m","t":9.976,"y":28},{"k":"m","t":9.983,"y":15},{"k":"m","t":9.995,"y":9},{"k":"m","t":10.012,"y":6.6},{"k":"m","t":10.021,"y":5.5},{"k":"m","t":10.03,"y":5},{"k":"m","t":10.1,"y":4.9},{"k":"m","t":10.2,"y":4.9},{"k":"m","t":10.3,"y":4.8},{"k":"m","t":10.4,"y":4.9},{"k":"m","t":10.449,"y":4.9},
{"k":"c","t":9.51,"y":5.3},{"k":"c","t":9.8,"y":5.3},{"k":"c","t":9.82,"y":7},{"k":"c","t":9.845,"y":9.5},{"k":"c","t":9.87,"y":7},{"k":"c","t":9.89,"y":5.3},{"k":"c","t":10.12,"y":5.3},{"k":"c","t":10.135,"y":6.4},{"k":"c","t":10.15,"y":6.8},{"k":"c","t":10.165,"y":6.2},{"k":"c","t":10.18,"y":5.3},{"k":"c","t":10.36,"y":5.3},{"k":"c","t":10.375,"y":8.5},{"k":"c","t":10.39,"y":9.5},{"k":"c","t":10.41,"y":8},{"k":"c","t":10.43,"y":6},{"k":"c","t":10.449,"y":5.6},
{"k":"o","t":9.51,"y":4.6},{"k":"o","t":9.8,"y":4.6},{"k":"o","t":9.84,"y":6.5},{"k":"o","t":9.86,"y":4.8},{"k":"o","t":9.9,"y":5},{"k":"o","t":9.91,"y":10},{"k":"o","t":9.925,"y":30},{"k":"o","t":9.94,"y":48},{"k":"o","t":9.95,"y":52},{"k":"o","t":9.96,"y":42},{"k":"o","t":9.975,"y":22},{"k":"o","t":9.99,"y":10},{"k":"o","t":10.01,"y":5},{"k":"o","t":10.1,"y":4.6},{"k":"o","t":10.2,"y":4.6},{"k":"o","t":10.3,"y":4.6},{"k":"o","t":10.449,"y":4.6},
{"k":"a","t":9.894,"y":5,"b":4.9},{"k":"a","t":9.905,"y":8,"b":4.9},{"k":"a","t":9.913,"y":15,"b":4.9},{"k":"a","t":9.92,"y":40,"b":4.9},{"k":"a","t":9.927,"y":67,"b":4.9},{"k":"a","t":9.934,"y":80,"b":4.9},{"k":"a","t":9.94,"y":89,"b":4.9},{"k":"a","t":9.945,"y":96,"b":4.9},{"k":"a","t":9.951,"y":100,"b":4.9},{"k":"a","t":9.955,"y":95,"b":4.9},{"k":"a","t":9.959,"y":87,"b":4.9},{"k":"a","t":9.964,"y":66,"b":4.9},{"k":"a","t":9.97,"y":46,"b":4.9},{"k":"a","t":9.976,"y":28,"b":4.9},{"k":"a","t":9.983,"y":15,"b":4.9},{"k":"a","t":9.995,"y":9,"b":4.9},{"k":"a","t":10.012,"y":6.6,"b":4.9},{"k":"a","t":10.021,"y":5.5,"b":4.9},
{"k":"g","t":9.903,"y":4.9,"b":4.9},{"k":"g","t":9.91,"y":10,"b":4.9},{"k":"g","t":9.925,"y":30,"b":4.9},{"k":"g","t":9.94,"y":48,"b":4.9},{"k":"g","t":9.95,"y":52,"b":4.9},{"k":"g","t":9.96,"y":42,"b":4.9},{"k":"g","t":9.975,"y":22,"b":4.9},{"k":"g","t":9.99,"y":10,"b":4.9},{"k":"g","t":10.008,"y":4.9,"b":4.9},
{"k":"b","t":9.894,"y":4.9,"t2":10.021,"y2":4.9},{"k":"b","t":10.315,"y":5,"t2":10.449,"y2":5.2},
{"k":"u","t":9.892,"y":1.5},{"k":"u","t":10.315,"y":1.5},{"k":"d","t":10.04,"y":8.6},
{"k":"x","t":9.953,"y":104,"label":"RT=9.953"}
],
"p5":[
{"k":"m","t":12.049,"y":2.8},{"k":"m","t":12.15,"y":2.8},{"k":"m","t":12.25,"y":2.8},{"k":"m","t":12.35,"y":2.8},{"k":"m","t":12.45,"y":2.8},{"k":"m","t":12.487,"y":2.8},{"k":"m","t":12.502,"y":5},{"k":"m","t":12.51,"y":15},{"k":"m","t":12.518,"y":30},{"k":"m","t":12.525,"y":47},{"k":"m","t":12.531,"y":64},{"k":"m","t":12.537,"y":80},{"k":"m","t":12.542,"y":91},{"k":"m","t":12.548,"y":97},{"k":"m","t":12.553,"y":100},{"k":"m","t":12.558,"y":95},{"k":"m","t":12.563,"y":89},{"k":"m","t":12.568,"y":75},{"k":"m","t":12.574,"y":60},{"k":"m","t":12.58,"y":44},{"k":"m","t":12.587,"y":28},{"k":"m","t":12.593,"y":18},{"k":"m","t":12.6,"y":11},{"k":"m","t":12.612,"y":6},{"k":"m","t":12.626,"y":3.7},{"k":"m","t":12.65,"y":2.9},{"k":"m","t":12.75,"y":2.8},{"k":"m","t":12.85,"y":2.8},{"k":"m","t":12.95,"y":2.8},{"k":"m","t":13.049,"y":2.8},
{"k":"c","t":12.049,"y":1.4},{"k":"c","t":13.049,"y":1.4},
{"k":"o","t":12.049,"y":2.2},{"k":"o","t":12.2,"y":2.2},{"k":"o","t":12.22,"y":3},{"k":"o","t":12.26,"y":3},{"k":"o","t":12.28,"y":2.2},{"k":"o","t":12.5,"y":2.2},{"k":"o","t":12.52,"y":15},{"k":"o","t":12.54,"y":35},{"k":"o","t":12.555,"y":40},{"k":"o","t":12.57,"y":30},{"k":"o","t":12.59,"y":12},{"k":"o","t":12.61,"y":4},{"k":"o","t":12.65,"y":2.2},{"k":"o","t":13.049,"y":2.2},
{"k":"a","t":12.487,"y":2.8,"b":2.8},{"k":"a","t":12.502,"y":5,"b":2.8},{"k":"a","t":12.51,"y":15,"b":2.8},{"k":"a","t":12.518,"y":30,"b":2.8},{"k":"a","t":12.525,"y":47,"b":2.8},{"k":"a","t":12.531,"y":64,"b":2.8},{"k":"a","t":12.537,"y":80,"b":2.8},{"k":"a","t":12.542,"y":91,"b":2.8},{"k":"a","t":12.548,"y":97,"b":2.8},{"k":"a","t":12.553,"y":100,"b":2.8},{"k":"a","t":12.558,"y":95,"b":2.8},{"k":"a","t":12.563,"y":89,"b":2.8},{"k":"a","t":12.568,"y":75,"b":2.8},{"k":"a","t":12.574,"y":60,"b":2.8},{"k":"a","t":12.58,"y":44,"b":2.8},{"k":"a","t":12.587,"y":28,"b":2.8},{"k":"a","t":12.593,"y":18,"b":2.8},{"k":"a","t":12.6,"y":11,"b":2.8},{"k":"a","t":12.612,"y":6,"b":2.8},{"k":"a","t":12.626,"y":3.7,"b":2.8},
{"k":"g","t":12.512,"y":2.8,"b":2.8},{"k":"g","t":12.52,"y":15,"b":2.8},{"k":"g","t":12.54,"y":35,"b":2.8},{"k":"g","t":12.555,"y":40,"b":2.8},{"k":"g","t":12.57,"y":30,"b":2.8},{"k":"g","t":12.59,"y":12,"b":2.8},{"k":"g","t":12.61,"y":4,"b":2.8},{"k":"g","t":12.615,"y":2.8,"b":2.8},
{"k":"b","t":12.487,"y":2.8,"t2":12.626,"y2":2.8},
{"k":"u","t":12.487,"y":0},{"k":"d","t":12.626,"y":5.8},
{"k":"x","t":12.555,"y":104,"label":"RT=12.555"}
],
"p6":[
{"k":"m","t":12.175,"y":5.4},{"k":"m","t":12.2,"y":5.9},{"k":"m","t":12.23,"y":5.5},{"k":"m","t":12.26,"y":6},{"k":"m","t":12.29,"y":6.3},{"k":"m","t":12.32,"y":5.8},{"k":"m","t":12.35,"y":6.1},{"k":"m","t":12.38,"y":5.4},{"k":"m","t":12.41,"y":6.2},{"k":"m","t":12.44,"y":5.6},{"k":"m","t":12.47,"y":5.9},{"k":"m","t":12.5,"y":5.3},{"k":"m","t":12.53,"y":5.7},{"k":"m","t":12.56,"y":5.5},{"k":"m","t":12.59,"y":5.8},{"k":"m","t":12.613,"y":6.6},{"k":"m","t":12.625,"y":9},{"k":"m","t":12.632,"y":15},{"k":"m","t":12.638,"y":40},{"k":"m","t":12.645,"y":66},{"k":"m","t":12.652,"y":84},{"k":"m","t":12.66,"y":97},{"k":"m","t":12.667,"y":100},{"k":"m","t":12.674,"y":100},{"k":"m","t":12.68,"y":94},{"k":"m","t":12.685,"y":87},{"k":"m","t":12.692,"y":69},{"k":"m","t":12.699,"y":50},{"k":"m","t":12.705,"y":33},{"k":"m","t":12.712,"y":19},{"k":"m","t":12.72,"y":12},{"k":"m","t":12.727,"y":8},{"k":"m","t":12.736,"y":6.6},{"k":"m","t":12.75,"y":6},{"k":"m","t":12.76,"y":5.8},{"k":"m","t":12.79,"y":5.5},{"k":"m","t":12.82,"y":5.7},{"k":"m","t":12.85,"y":5.4},{"k":"m","t":12.88,"y":6},{"k":"m","t":12.91,"y":8.5},{"k":"m","t":12.94,"y":7.5},{"k":"m","t":12.97,"y":8.6},{"k":"m","t":13,"y":8.3},{"k":"m","t":13.03,"y":8.6},{"k":"m","t":13.06,"y":8.5},{"k":"m","t":13.09,"y":7.5},{"k":"m","t":13.12,"y":8.8},{"k":"m","t":13.145,"y":9},{"k":"m","t":13.169,"y":8.5},
{"k":"o","t":12.175,"y":3.7},{"k":"o","t":12.3,"y":3.8},{"k":"o","t":12.45,"y":3.6},{"k":"o","t":12.6,"y":3.7},{"k":"o","t":12.63,"y":10},{"k":"o","t":12.65,"y":30},{"k":"o","t":12.665,"y":40},{"k":"o","t":12.68,"y":35},{"k":"o","t":12.7,"y":18},{"k":"o","t":12.72,"y":6},{"k":"o","t":12.74,"y":3.7},{"k":"o","t":12.9,"y":3.7},{"k":"o","t":13.169,"y":3.6},
{"k":"a","t":12.613,"y":6.6,"b":6.6},{"k":"a","t":12.625,"y":9,"b":6.6},{"k":"a","t":12.632,"y":15,"b":6.6},{"k":"a","t":12.638,"y":40,"b":6.6},{"k":"a","t":12.645,"y":66,"b":6.6},{"k":"a","t":12.652,"y":84,"b":6.6},{"k":"a","t":12.66,"y":97,"b":6.6},{"k":"a","t":12.667,"y":100,"b":6.6},{"k":"a","t":12.674,"y":100,"b":6.6},{"k":"a","t":12.68,"y":94,"b":6.6},{"k":"a","t":12.685,"y":87,"b":6.6},{"k":"a","t":12.692,"y":69,"b":6.6},{"k":"a","t":12.699,"y":50,"b":6.6},{"k":"a","t":12.705,"y":33,"b":6.6},{"k":"a","t":12.712,"y":19,"b":6.6},{"k":"a","t":12.72,"y":12,"b":6.6},{"k":"a","t":12.727,"y":8,"b":6.6},{"k":"a","t":12.736,"y":6.6,"b":6.6},
{"k":"g","t":12.627,"y":6.6,"b":6.6},{"k":"g","t":12.63,"y":10,"b":6.6},{"k":"g","t":12.65,"y":30,"b":6.6},{"k":"g","t":12.665,"y":40,"b":6.6},{"k":"g","t":12.68,"y":35,"b":6.6},{"k":"g","t":12.7,"y":18,"b":6.6},{"k":"g","t":12.715,"y":6.6,"b":6.6},
{"k":"b","t":12.613,"y":6.6,"t2":12.736,"y2":6.6},{"k":"b","t":12.88,"y":5.4,"t2":13.169,"y2":5.4},
{"k":"u","t":12.613,"y":2},{"k":"u","t":12.736,"y":2},{"k":"u","t":12.88,"y":2.5},{"k":"u","t":13.06,"y":2.5},{"k":"u","t":13.145,"y":7.5},
{"k":"d","t":12.736,"y":9.8},{"k":"d","t":12.77,"y":9.2},{"k":"d","t":13.06,"y":9.8},
{"k":"x","t":12.674,"y":104,"label":"RT=12.674"}
],
"p7":[
{"k":"m","t":12.323,"y":4.6},{"k":"m","t":12.4,"y":4.6},{"k":"m","t":12.45,"y":4.4},{"k":"m","t":12.5,"y":4.7},{"k":"m","t":12.52,"y":5.2},{"k":"m","t":12.54,"y":4.7},{"k":"m","t":12.6,"y":4.5},{"k":"m","t":12.7,"y":4.6},{"k":"m","t":12.763,"y":4.6},{"k":"m","t":12.773,"y":6},{"k":"m","t":12.78,"y":15},{"k":"m","t":12.788,"y":31},{"k":"m","t":12.795,"y":50},{"k":"m","t":12.802,"y":68},{"k":"m","t":12.808,"y":82},{"k":"m","t":12.813,"y":92},{"k":"m","t":12.818,"y":98},{"k":"m","t":12.823,"y":100},{"k":"m","t":12.828,"y":95},{"k":"m","t":12.833,"y":88},{"k":"m","t":12.838,"y":76},{"k":"m","t":12.844,"y":61},{"k":"m","t":12.85,"y":43},{"k":"m","t":12.856,"y":27},{"k":"m","t":12.863,"y":17},{"k":"m","t":12.871,"y":10},{"k":"m","t":12.887,"y":6},{"k":"m","t":12.9,"y":5},{"k":"m","t":12.95,"y":4.6},{"k":"m","t":13,"y":4.5},{"k":"m","t":13.1,"y":4.6},{"k":"m","t":13.2,"y":4.5},{"k":"m","t":13.323,"y":4.5},
{"k":"o","t":12.323,"y":3.9},{"k":"o","t":12.5,"y":4},{"k":"o","t":12.7,"y":3.9},{"k":"o","t":12.775,"y":8},{"k":"o","t":12.79,"y":25},{"k":"o","t":12.805,"y":45},{"k":"o","t":12.82,"y":52},{"k":"o","t":12.835,"y":42},{"k":"o","t":12.85,"y":25},{"k":"o","t":12.865,"y":10},{"k":"o","t":12.88,"y":5},{"k":"o","t":12.9,"y":3.9},{"k":"o","t":13.323,"y":3.9},
{"k":"a","t":12.763,"y":4.6,"b":4.6},{"k":"a","t":12.773,"y":6,"b":4.6},{"k":"a","t":12.78,"y":15,"b":4.6},{"k":"a","t":12.788,"y":31,"b":4.6},{"k":"a","t":12.795,"y":50,"b":4.6},{"k":"a","t":12.802,"y":68,"b":4.6},{"k":"a","t":12.808,"y":82,"b":4.6},{"k":"a","t":12.813,"y":92,"b":4.6},{"k":"a","t":12.818,"y":98,"b":4.6},{"k":"a","t":12.823,"y":100,"b":4.6},{"k":"a","t":12.828,"y":95,"b":4.6},{"k":"a","t":12.833,"y":88,"b":4.6},{"k":"a","t":12.838,"y":76,"b":4.6},{"k":"a","t":12.844,"y":61,"b":4.6},{"k":"a","t":12.85,"y":43,"b":4.6},{"k":"a","t":12.856,"y":27,"b":4.6},{"k":"a","t":12.863,"y":17,"b":4.6},{"k":"a","t":12.871,"y":10,"b":4.6},{"k":"a","t":12.887,"y":6,"b":4.6},
{"k":"g","t":12.772,"y":4.6,"b":4.6},{"k":"g","t":12.775,"y":8,"b":4.6},{"k":"g","t":12.79,"y":25,"b":4.6},{"k":"g","t":12.805,"y":45,"b":4.6},{"k":"g","t":12.82,"y":52,"b":4.6},{"k":"g","t":12.835,"y":42,"b":4.6},{"k":"g","t":12.85,"y":25,"b":4.6},{"k":"g","t":12.865,"y":10,"b":4.6},{"k":"g","t":12.878,"y":4.6,"b":4.6},
{"k":"b","t":12.763,"y":4.6,"t2":12.887,"y2":4.6},
{"k":"u","t":12.763,"y":0.5},{"k":"d","t":12.887,"y":7.8},
{"k":"x","t":12.823,"y":104,"label":"RT=12.823"}
],
"p8":[
{"k":"m","t":12.554,"y":6.8},{"k":"m","t":12.6,"y":7.2},{"k":"m","t":12.65,"y":6.9},{"k":"m","t":12.7,"y":7.5},{"k":"m","t":12.75,"y":6.8},{"k":"m","t":12.8,"y":7.3},{"k":"m","t":12.85,"y":7},{"k":"m","t":12.9,"y":6.9},{"k":"m","t":12.95,"y":7.4},{"k":"m","t":13.005,"y":7.3},{"k":"m","t":13.009,"y":9.9},{"k":"m","t":13.016,"y":25},{"k":"m","t":13.022,"y":44},{"k":"m","t":13.029,"y":62},{"k":"m","t":13.035,"y":78},{"k":"m","t":13.041,"y":89},{"k":"m","t":13.047,"y":97},{"k":"m","t":13.053,"y":100},{"k":"m","t":13.058,"y":94},{"k":"m","t":13.063,"y":88},{"k":"m","t":13.068,"y":74},{"k":"m","t":13.074,"y":59},{"k":"m","t":13.081,"y":42},{"k":"m","t":13.088,"y":27},{"k":"m","t":13.094,"y":18},{"k":"m","t":13.1,"y":11},{"k":"m","t":13.112,"y":8},{"k":"m","t":13.118,"y":7.5},{"k":"m","t":13.123,"y":7},{"k":"m","t":13.15,"y":7.3},{"k":"m","t":13.2,"y":6.8},{"k":"m","t":13.25,"y":7.4},{"k":"m","t":13.3,"y":6.9},{"k":"m","t":13.35,"y":7.2},{"k":"m","t":13.4,"y":6.6},{"k":"m","t":13.45,"y":7.1},{"k":"m","t":13.5,"y":6.8},{"k":"m","t":13.554,"y":7},
{"k":"o","t":12.554,"y":5.5},{"k":"o","t":12.65,"y":5},{"k":"o","t":12.75,"y":5.6},{"k":"o","t":12.85,"y":5.2},{"k":"o","t":12.95,"y":5.4},{"k":"o","t":13.01,"y":6},{"k":"o","t":13.025,"y":20},{"k":"o","t":13.04,"y":32},{"k":"o","t":13.055,"y":35},{"k":"o","t":13.07,"y":28},{"k":"o","t":13.085,"y":15},{"k":"o","t":13.1,"y":7},{"k":"o","t":13.12,"y":5.4},{"k":"o","t":13.2,"y":5.2},{"k":"o","t":13.3,"y":5.4},{"k":"o","t":13.4,"y":5},{"k":"o","t":13.554,"y":5.3},
{"k":"a","t":13.005,"y":7.3,"b":7.3},{"k":"a","t":13.009,"y":9.9,"b":7.3},{"k":"a","t":13.016,"y":25,"b":7.3},{"k":"a","t":13.022,"y":44,"b":7.3},{"k":"a","t":13.029,"y":62,"b":7.3},{"k":"a","t":13.035,"y":78,"b":7.3},{"k":"a","t":13.041,"y":89,"b":7.3},{"k":"a","t":13.047,"y":97,"b":7.3},{"k":"a","t":13.053,"y":100,"b":7.3},{"k":"a","t":13.058,"y":94,"b":7.3},{"k":"a","t":13.063,"y":88,"b":7.3},{"k":"a","t":13.068,"y":74,"b":7.3},{"k":"a","t":13.074,"y":59,"b":7.3},{"k":"a","t":13.081,"y":42,"b":7.3},{"k":"a","t":13.088,"y":27,"b":7.3},{"k":"a","t":13.094,"y":18,"b":7.3},{"k":"a","t":13.1,"y":11,"b":7.3},{"k":"a","t":13.112,"y":8,"b":7.3},{"k":"a","t":13.118,"y":7.5,"b":7.3},
{"k":"g","t":13.02,"y":7.3,"b":7.3},{"k":"g","t":13.025,"y":20,"b":7.3},{"k":"g","t":13.04,"y":32,"b":7.3},{"k":"g","t":13.055,"y":35,"b":7.3},{"k":"g","t":13.07,"y":28,"b":7.3},{"k":"g","t":13.085,"y":15,"b":7.3},{"k":"g","t":13.098,"y":7.3,"b":7.3},
{"k":"b","t":13.005,"y":7.3,"t2":13.118,"y2":7.3},
{"k":"u","t":13.005,"y":2.5},{"k":"d","t":13.118,"y":10.5},
{"k":"x","t":13.053,"y":104,"label":"RT=13.053"}
],
"p9":[
{"k":"m","t":13.545,"y":5.1},{"k":"m","t":13.57,"y":5},{"k":"m","t":13.6,"y":5.2},{"k":"m","t":13.61,"y":5.6},{"k":"m","t":13.624,"y":7},{"k":"m","t":13.631,"y":9.5},{"k":"m","t":13.637,"y":25},{"k":"m","t":13.644,"y":44},{"k":"m","t":13.65,"y":62},{"k":"m","t":13.657,"y":78},{"k":"m","t":13.662,"y":88},{"k":"m","t":13.667,"y":95},{"k":"m","t":13.673,"y":100},{"k":"m","t":13.679,"y":100},{"k":"m","t":13.684,"y":92},{"k":"m","t":13.689,"y":82},{"k":"m","t":13.694,"y":70},{"k":"m","t":13.699,"y":57},{"k":"m","t":13.705,"y":42},{"k":"m","t":13.711,"y":29},{"k":"m","t":13.719,"y":17},{"k":"m","t":13.727,"y":11},{"k":"m","t":13.735,"y":8},{"k":"m","t":13.744,"y":6.8},{"k":"m","t":13.754,"y":6},{"k":"m","t":13.8,"y":5.2},{"k":"m","t":13.85,"y":5},{"k":"m","t":13.9,"y":5.3},{"k":"m","t":13.95,"y":5.1},{"k":"m","t":14,"y":5.2},{"k":"m","t":14.05,"y":5},{"k":"m","t":14.1,"y":5.2},{"k":"m","t":14.18,"y":5.1},
{"k":"o","t":13.545,"y":4.6},{"k":"o","t":13.6,"y":4.7},{"k":"o","t":13.63,"y":8},{"k":"o","t":13.645,"y":25},{"k":"o","t":13.66,"y":38},{"k":"o","t":13.675,"y":42},{"k":"o","t":13.69,"y":32},{"k":"o","t":13.705,"y":18},{"k":"o","t":13.72,"y":8},{"k":"o","t":13.74,"y":5},{"k":"o","t":13.8,"y":4.6},{"k":"o","t":13.9,"y":5},{"k":"o","t":14,"y":4.6},{"k":"o","t":14.1,"y":4.9},{"k":"o","t":14.18,"y":4.7},
{"k":"a","t":13.61,"y":5.6,"b":5.6},{"k":"a","t":13.624,"y":7,"b":5.6},{"k":"a","t":13.631,"y":9.5,"b":5.6},{"k":"a","t":13.637,"y":25,"b":5.6},{"k":"a","t":13.644,"y":44,"b":5.6},{"k":"a","t":13.65,"y":62,"b":5.6},{"k":"a","t":13.657,"y":78,"b":5.6},{"k":"a","t":13.662,"y":88,"b":5.6},{"k":"a","t":13.667,"y":95,"b":5.6},{"k":"a","t":13.673,"y":100,"b":5.6},{"k":"a","t":13.679,"y":100,"b":5.6},{"k":"a","t":13.684,"y":92,"b":5.6},{"k":"a","t":13.689,"y":82,"b":5.6},{"k":"a","t":13.694,"y":70,"b":5.6},{"k":"a","t":13.699,"y":57,"b":5.6},{"k":"a","t":13.705,"y":42,"b":5.6},{"k":"a","t":13.711,"y":29,"b":5.6},{"k":"a","t":13.719,"y":17,"b":5.6},{"k":"a","t":13.727,"y":11,"b":5.6},{"k":"a","t":13.735,"y":8,"b":5.6},{"k":"a","t":13.744,"y":6.8,"b":5.6},
{"k":"g","t":13.625,"y":5.6,"b":5.6},{"k":"g","t":13.63,"y":8,"b":5.6},{"k":"g","t":13.645,"y":25,"b":5.6},{"k":"g","t":13.66,"y":38,"b":5.6},{"k":"g","t":13.675,"y":42,"b":5.6},{"k":"g","t":13.69,"y":32,"b":5.6},{"k":"g","t":13.705,"y":18,"b":5.6},{"k":"g","t":13.72,"y":8,"b":5.6},{"k":"g","t":13.73,"y":5.6,"b":5.6},
{"k":"b","t":13.61,"y":5.6,"t2":13.744,"y2":5.6},
{"k":"u","t":13.61,"y":0.3},{"k":"d","t":13.744,"y":8.8},
{"k":"x","t":13.678,"y":104,"label":"RT=13.678"}
],
"p10":[
{"k":"m","t":15.159,"y":3.9},{"k":"m","t":15.25,"y":3.9},{"k":"m","t":15.35,"y":4},{"k":"m","t":15.45,"y":3.8},{"k":"m","t":15.55,"y":3.9},{"k":"m","t":15.598,"y":3.9},{"k":"m","t":15.61,"y":5},{"k":"m","t":15.617,"y":7.6},{"k":"m","t":15.623,"y":25},{"k":"m","t":15.63,"y":45},{"k":"m","t":15.636,"y":65},{"k":"m","t":15.642,"y":82},{"k":"m","t":15.647,"y":94},{"k":"m","t":15.652,"y":100},{"k":"m","t":15.658,"y":95},{"k":"m","t":15.663,"y":85},{"k":"m","t":15.669,"y":70},{"k":"m","t":15.675,"y":53},{"k":"m","t":15.681,"y":38},{"k":"m","t":15.687,"y":24},{"k":"m","t":15.695,"y":15},{"k":"m","t":15.703,"y":9.3},{"k":"m","t":15.712,"y":6},{"k":"m","t":15.722,"y":4.4},{"k":"m","t":15.8,"y":3.9},{"k":"m","t":15.9,"y":3.9},{"k":"m","t":16,"y":3.8},{"k":"m","t":16.1,"y":3.9},{"k":"m","t":16.153,"y":3.9},
{"k":"o","t":15.159,"y":3.3},{"k":"o","t":15.5,"y":3.3},{"k":"o","t":15.615,"y":4},{"k":"o","t":15.63,"y":15},{"k":"o","t":15.645,"y":26},{"k":"o","t":15.655,"y":29},{"k":"o","t":15.67,"y":22},{"k":"o","t":15.685,"y":12},{"k":"o","t":15.7,"y":5},{"k":"o","t":15.72,"y":3.4},{"k":"o","t":16.153,"y":3.3},
{"k":"a","t":15.598,"y":3.9,"b":3.9},{"k":"a","t":15.61,"y":5,"b":3.9},{"k":"a","t":15.617,"y":7.6,"b":3.9},{"k":"a","t":15.623,"y":25,"b":3.9},{"k":"a","t":15.63,"y":45,"b":3.9},{"k":"a","t":15.636,"y":65,"b":3.9},{"k":"a","t":15.642,"y":82,"b":3.9},{"k":"a","t":15.647,"y":94,"b":3.9},{"k":"a","t":15.652,"y":100,"b":3.9},{"k":"a","t":15.658,"y":95,"b":3.9},{"k":"a","t":15.663,"y":85,"b":3.9},{"k":"a","t":15.669,"y":70,"b":3.9},{"k":"a","t":15.675,"y":53,"b":3.9},{"k":"a","t":15.681,"y":38,"b":3.9},{"k":"a","t":15.687,"y":24,"b":3.9},{"k":"a","t":15.695,"y":15,"b":3.9},{"k":"a","t":15.703,"y":9.3,"b":3.9},
{"k":"g","t":15.612,"y":3.9,"b":3.9},{"k":"g","t":15.63,"y":15,"b":3.9},{"k":"g","t":15.645,"y":26,"b":3.9},{"k":"g","t":15.655,"y":29,"b":3.9},{"k":"g","t":15.67,"y":22,"b":3.9},{"k":"g","t":15.685,"y":12,"b":3.9},{"k":"g","t":15.697,"y":3.9,"b":3.9},
{"k":"b","t":15.598,"y":3.9,"t2":15.703,"y2":3.9},
{"k":"u","t":15.598,"y":0.5},{"k":"d","t":15.71,"y":8.5},
{"k":"x","t":15.654,"y":104,"label":"RT=15.654"}
],
"p11":[
{"k":"m","t":17.846,"y":9.2},{"k":"m","t":17.87,"y":9.5},{"k":"m","t":17.9,"y":9},{"k":"m","t":17.93,"y":9.8},{"k":"m","t":17.96,"y":9.4},{"k":"m","t":17.99,"y":10.2},{"k":"m","t":18.02,"y":9.8},{"k":"m","t":18.05,"y":10.6},{"k":"m","t":18.08,"y":10},{"k":"m","t":18.11,"y":10.8},{"k":"m","t":18.14,"y":10.3},{"k":"m","t":18.17,"y":11},{"k":"m","t":18.2,"y":10.5},{"k":"m","t":18.23,"y":11.2},{"k":"m","t":18.26,"y":10.8},{"k":"m","t":18.29,"y":11.3},{"k":"m","t":18.313,"y":11},{"k":"m","t":18.325,"y":13.5},{"k":"m","t":18.332,"y":30},{"k":"m","t":18.338,"y":52},{"k":"m","t":18.343,"y":82},{"k":"m","t":18.348,"y":95},{"k":"m","t":18.354,"y":100},{"k":"m","t":18.36,"y":88},{"k":"m","t":18.364,"y":52},{"k":"m","t":18.368,"y":30},{"k":"m","t":18.373,"y":18},{"k":"m","t":18.38,"y":13},{"k":"m","t":18.39,"y":12},{"k":"m","t":18.402,"y":13.3},{"k":"m","t":18.42,"y":12.5},{"k":"m","t":18.45,"y":13},{"k":"m","t":18.48,"y":12.2},{"k":"m","t":18.51,"y":12.8},{"k":"m","t":18.54,"y":12.4},{"k":"m","t":18.57,"y":13.2},{"k":"m","t":18.6,"y":12.8},{"k":"m","t":18.63,"y":14.5},{"k":"m","t":18.66,"y":14},{"k":"m","t":18.69,"y":15},{"k":"m","t":18.72,"y":14.2},{"k":"m","t":18.75,"y":14.8},{"k":"m","t":18.78,"y":14.4},{"k":"m","t":18.81,"y":15},{"k":"m","t":18.84,"y":14.6},{"k":"m","t":18.863,"y":15},
{"k":"o","t":17.846,"y":12.3},{"k":"o","t":17.87,"y":12.8},{"k":"o","t":17.9,"y":12.2},{"k":"o","t":17.93,"y":13.2},{"k":"o","t":17.96,"y":12.8},{"k":"o","t":17.99,"y":13.8},{"k":"o","t":18.02,"y":13.3},{"k":"o","t":18.05,"y":14.5},{"k":"o","t":18.08,"y":14},{"k":"o","t":18.11,"y":15.2},{"k":"o","t":18.14,"y":14.5},{"k":"o","t":18.17,"y":15.5},{"k":"o","t":18.2,"y":14.8},{"k":"o","t":18.23,"y":16},{"k":"o","t":18.26,"y":15.2},{"k":"o","t":18.29,"y":15.8},{"k":"o","t":18.32,"y":15},{"k":"o","t":18.35,"y":16.5},{"k":"o","t":18.38,"y":16},{"k":"o","t":18.41,"y":17},{"k":"o","t":18.44,"y":16.5},{"k":"o","t":18.47,"y":17.8},{"k":"o","t":18.5,"y":17},{"k":"o","t":18.53,"y":18.5},{"k":"o","t":18.56,"y":17.5},{"k":"o","t":18.59,"y":19},{"k":"o","t":18.62,"y":21},{"k":"o","t":18.64,"y":20},{"k":"o","t":18.66,"y":24},{"k":"o","t":18.68,"y":29.5},{"k":"o","t":18.7,"y":25},{"k":"o","t":18.72,"y":23},{"k":"o","t":18.75,"y":21},{"k":"o","t":18.78,"y":20},{"k":"o","t":18.81,"y":21.5},{"k":"o","t":18.84,"y":20.5},{"k":"o","t":18.863,"y":21},
{"k":"a","t":18.313,"y":11,"b":11},{"k":"a","t":18.325,"y":13.5,"b":11},{"k":"a","t":18.332,"y":30,"b":11},{"k":"a","t":18.338,"y":52,"b":11},{"k":"a","t":18.343,"y":82,"b":11},{"k":"a","t":18.348,"y":95,"b":11},{"k":"a","t":18.354,"y":100,"b":11},{"k":"a","t":18.36,"y":88,"b":11},{"k":"a","t":18.364,"y":52,"b":11},{"k":"a","t":18.368,"y":30,"b":11},{"k":"a","t":18.373,"y":18,"b":11},{"k":"a","t":18.38,"y":13,"b":11},{"k":"a","t":18.39,"y":12,"b":11},{"k":"a","t":18.402,"y":13.3,"b":11},
{"k":"b","t":18.313,"y":11,"t2":18.402,"y2":11},{"k":"b","t":18.571,"y":14,"t2":18.716,"y2":14.5},
{"k":"u","t":18.313,"y":4},{"k":"u","t":18.402,"y":4},{"k":"u","t":18.571,"y":6.5},{"k":"u","t":18.64,"y":6},{"k":"u","t":18.7,"y":6},
{"k":"d","t":18.402,"y":14.5},{"k":"d","t":18.48,"y":15.5},{"k":"d","t":18.64,"y":16.5},{"k":"d","t":18.7,"y":16.5},{"k":"d","t":18.745,"y":17.5},
{"k":"x","t":18.358,"y":104,"label":"RT=18.358"}
]
}
}
